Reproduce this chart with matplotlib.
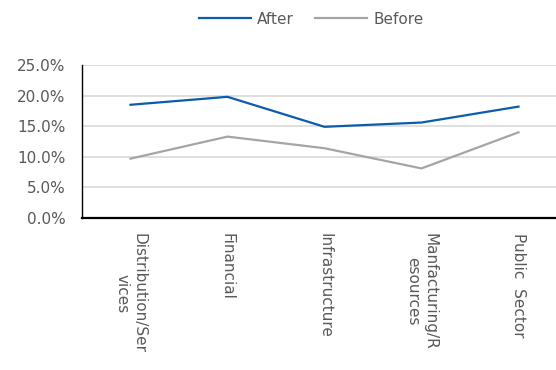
import matplotlib
matplotlib.use('Agg')
import matplotlib.pyplot as plt
from matplotlib.ticker import FuncFormatter

sectors = ['Distribution/Ser\nvices', 'Financial', 'Infrastructure',
           'Manfacturing/R\nesources', 'Public  Sector']
after = [18.5, 19.8, 14.9, 15.6, 18.2]
before = [9.7, 13.3, 11.4, 8.1, 14.0]

grey = '#595959'
plt.rcParams['font.family'] = ['DejaVu Sans']
plt.rcParams['font.size'] = 11

fig = plt.figure(figsize=(5.56, 3.70), dpi=100)
ax = fig.add_axes([82 / 556, 1 - 218 / 370, 485 / 556, 153 / 370])

x = range(len(sectors))
ax.plot(x, after, color='#0b5cab', lw=1.6, label='After', zorder=3)
ax.plot(x, before, color='#a5a5a5', lw=1.6, label='Before', zorder=3)

ax.set_xlim(-0.5, len(sectors) - 0.5)
ax.set_ylim(0, 25)
ax.set_yticks([0, 5, 10, 15, 20, 25])
ax.yaxis.set_major_formatter(FuncFormatter(lambda v, p: '%.1f%%' % v))
ax.grid(axis='y', color='#d9d9d9', lw=1.2)
ax.set_axisbelow(True)

ax.set_xticks(list(x))
ax.set_xticklabels(sectors, rotation=270, ha='center', va='top',
                   multialignment='center', color=grey)
ax.tick_params(axis='x', length=0, pad=11)
ax.tick_params(axis='y', length=0, pad=12, labelcolor=grey)

for s in ['top', 'right']:
    ax.spines[s].set_visible(False)
ax.spines['left'].set_color('black')
ax.spines['left'].set_linewidth(1.0)
ax.spines['bottom'].set_color('black')
ax.spines['bottom'].set_linewidth(1.6)

leg = fig.legend(loc='center', bbox_to_anchor=(311 / 556, 1 - 19 / 370), ncol=2,
                 frameon=False, handlelength=3.4, handletextpad=0.4,
                 columnspacing=1.4)
for t in leg.get_texts():
    t.set_color(grey)

fig.savefig('out.png', dpi=100)
